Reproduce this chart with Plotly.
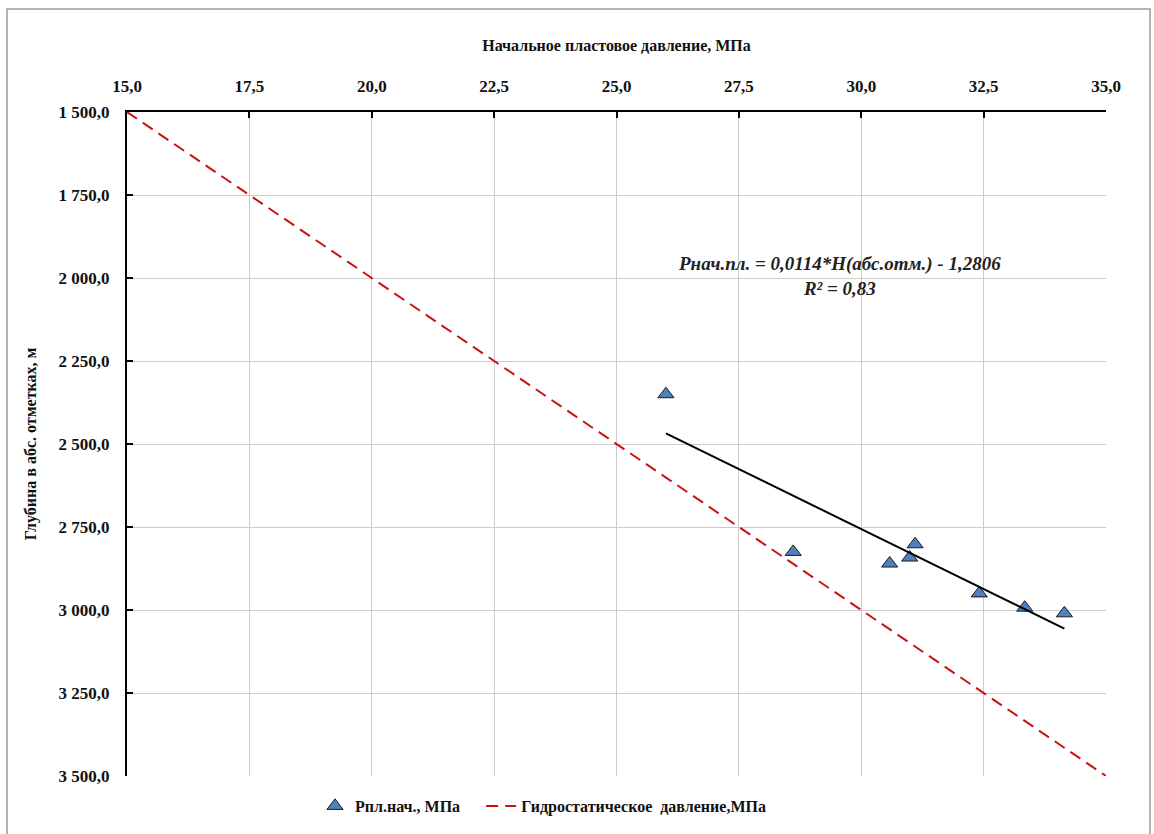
import plotly.graph_objects as go

# Data
p_initial = [26.01, 28.61, 30.58, 30.99, 31.10, 32.41, 33.34, 34.15]
depth = [2350, 2825, 2860, 2842, 2802, 2950, 2993, 3010]

trend_p = [26.01, 34.15]
trend_h = [2468, 3056]

hydro_p = [15.0, 35.0]
hydro_h = [1500.0, 3500.0]

x_ticks = [15.0, 17.5, 20.0, 22.5, 25.0, 27.5, 30.0, 32.5, 35.0]
y_ticks = [1500, 1750, 2000, 2250, 2500, 2750, 3000, 3250, 3500]

FONT = "Liberation Serif"

fig = go.Figure()

fig.add_trace(go.Scatter(
    x=p_initial, y=depth, mode="markers",
    name="Рпл.нач., МПа&nbsp;&nbsp;&nbsp;&nbsp;",
    marker=dict(symbol="triangle-up", size=14, color="#4F81BD",
                line=dict(color="#1a1a1a", width=1)),
))
fig.add_trace(go.Scatter(
    x=hydro_p, y=hydro_h, mode="lines",
    name="Гидростатическое&nbsp;&nbsp;давление,МПа",
    line=dict(color="#CC1111", width=2, dash="12px,7px"),
))
fig.add_trace(go.Scatter(
    x=trend_p, y=trend_h, mode="lines", showlegend=False,
    line=dict(color="black", width=2),
))

W, H = 1154, 834
ml, mr, mt, mb = 127, 48, 112, 58
pw, ph = W - ml - mr, H - mt - mb

def px_to_paper_x(px):
    return (px - ml) / pw

def px_to_paper_y(py):
    return 1 - (py - mt) / ph

fig.add_shape(type="rect", xref="paper", yref="paper",
              x0=px_to_paper_x(7), x1=px_to_paper_x(1150),
              y0=px_to_paper_y(840), y1=px_to_paper_y(9),
              line=dict(color="#9a9a9a", width=1.5), layer="below")

fig.add_annotation(
    x=29.55, y=1995, xref="x", yref="y", showarrow=False,
    text="<i>Pнач.пл. = 0,0114*H(абс.отм.) - 1,2806</i><br><i>R² = 0,83</i>",
    font=dict(family=FONT, size=19, color="#222", weight="bold"), align="center",
)

bold = dict(family=FONT, size=17, color="#111", weight="bold")

fig.update_layout(
    width=W, height=H,
    margin=dict(l=ml, r=mr, t=mt, b=mb, autoexpand=False),
    paper_bgcolor="white", plot_bgcolor="white",
    separators=", ",
    font=dict(family=FONT, size=16, color="#111"),
    showlegend=True,
    legend=dict(orientation="h", x=px_to_paper_x(315), xanchor="left",
                y=px_to_paper_y(789), yanchor="top",
                font=dict(family=FONT, size=16, color="#111", weight="bold"), itemwidth=30,
                tracegroupgap=0),
    xaxis=dict(
        side="top", range=[15, 35], tickvals=x_ticks, tickformat=".1f",
        showgrid=True, gridcolor="#cccccc", gridwidth=1,
        showline=True, linecolor="black", linewidth=2,
        ticks="inside", ticklen=6, tickcolor="black", tickwidth=2,
        tickfont=bold,
        ticklabelstandoff=11,
        title=dict(text="Начальное пластовое давление, МПа",
                   font=dict(family=FONT, size=16, color="#111", weight="bold"), standoff=22),
        zeroline=False,
    ),
    yaxis=dict(
        autorange=False, range=[3500, 1500], tickvals=y_ticks, tickformat=",.1f",
        showgrid=True, gridcolor="#cccccc", gridwidth=1,
        showline=True, linecolor="black", linewidth=2,
        ticks="inside", ticklen=6, tickcolor="black", tickwidth=2,
        tickfont=bold,
        ticklabelstandoff=12,
        title=dict(text="Глубина в абс. отметках, м",
                   font=dict(family=FONT, size=16, color="#111", weight="bold"), standoff=18),
        zeroline=False,
    ),
)

fig.write_html("out.html", config={"displayModeBar": False},
               post_script="document.body.style.margin='0';")
